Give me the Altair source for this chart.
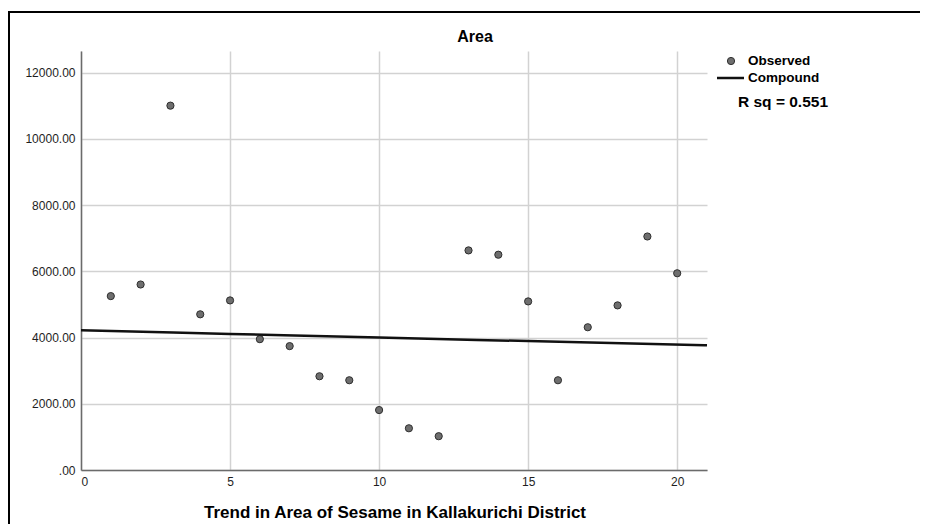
import altair as alt
import pandas as pd

# Observed values (year index vs area)
years = list(range(1, 21))
area = [5250, 5600, 11000, 4700, 5120, 3950, 3740, 2830, 2710, 1810,
        1260, 1020, 6630, 6500, 5090, 2710, 4310, 4970, 7050, 5940]

# Compound fit curve
fit_x = [0, 5, 10, 15, 21]
fit_y = [4220, 4108, 3998, 3892, 3768]

x_ticks = [0, 5, 10, 15, 20]
y_ticks = [0, 2000, 4000, 6000, 8000, 10000, 12000]

chart_title = "Area"
x_title = "Trend in Area of Sesame in Kallakurichi District"
legend_labels = ["Observed", "Compound"]
rsq_text = "R sq = 0.551"

obs = pd.DataFrame({"x": years, "y": area})
fit = pd.DataFrame({"x": fit_x, "y": fit_y})

W, H = 626, 419
FONT = "Liberation Sans"

xscale = alt.Scale(domain=[0, 21], nice=False, zero=False)
yscale = alt.Scale(domain=[0, 12650], nice=False)

xaxis = alt.Axis(values=x_ticks, title=None, grid=True, gridColor="#d2d2d2", gridWidth=1.5,
                 domainColor="#6b6b6b", domainWidth=1.5, ticks=False, labelPadding=6,
                 labelFont=FONT, labelFontSize=12, labelColor="#1e1e1e")
yaxis = alt.Axis(values=y_ticks, title=None, grid=True, gridColor="#d2d2d2", gridWidth=1.5,
                 domainColor="#6b6b6b", domainWidth=1.5, ticks=False, labelPadding=6,
                 labelFont=FONT, labelFontSize=12, labelColor="#1e1e1e",
                 labelExpr="datum.value == 0 ? '.00' : format(datum.value, '.2f')")

points = alt.Chart(obs).mark_point(filled=True, size=52, color="#6e6e6e",
                                   stroke="#2e2e2e", strokeWidth=1, opacity=1).encode(
    x=alt.X("x:Q", scale=xscale, axis=xaxis),
    y=alt.Y("y:Q", scale=yscale, axis=yaxis),
)

line = alt.Chart(fit).mark_line(color="#111111", strokeWidth=2.5, interpolate="monotone").encode(
    x=alt.X("x:Q", scale=xscale),
    y=alt.Y("y:Q", scale=yscale),
)

title_mark = alt.Chart(pd.DataFrame({"t": [chart_title]})).mark_text(
    font=FONT, fontSize=16, fontWeight="bold", color="#000000", align="center", baseline="middle"
).encode(x=alt.value(394), y=alt.value(-14), text="t:N")

xtitle_mark = alt.Chart(pd.DataFrame({"t": [x_title]})).mark_text(
    font=FONT, fontSize=17, fontWeight="bold", color="#000000", align="center", baseline="middle"
).encode(x=alt.value(W / 2 + 1), y=alt.value(462), text="t:N")

leg_pt = alt.Chart(pd.DataFrame({"a": [0]})).mark_point(
    filled=True, size=52, color="#6e6e6e", stroke="#2e2e2e", strokeWidth=1, opacity=1
).encode(x=alt.value(650), y=alt.value(10))

leg_line = alt.Chart(pd.DataFrame({"a": [0]})).mark_rule(color="#111111", strokeWidth=2.5).encode(
    x=alt.value(636), x2=alt.value(663), y=alt.value(27))

leg_text = alt.Chart(pd.DataFrame({"t": legend_labels, "yy": [10, 27]})).mark_text(
    font=FONT, fontSize=13.5, fontWeight="bold", color="#000000", align="left", baseline="middle"
).encode(x=alt.value(667), y=alt.Y("yy:Q", scale=None), text="t:N")

rsq = alt.Chart(pd.DataFrame({"t": [rsq_text]})).mark_text(
    font=FONT, fontSize=15.5, fontWeight="bold", color="#000000", align="left", baseline="middle"
).encode(x=alt.value(657), y=alt.value(50.5), text="t:N")

border_left = alt.Chart(pd.DataFrame({"a": [0]})).mark_rule(color="#000000", strokeWidth=2).encode(
    x=alt.value(-72), y=alt.value(-40), y2=alt.value(480))
border_top = alt.Chart(pd.DataFrame({"a": [0]})).mark_rule(color="#000000", strokeWidth=2).encode(
    x=alt.value(-73), x2=alt.value(850), y=alt.value(-39))

chart = alt.layer(points, line, title_mark, xtitle_mark, leg_pt, leg_line, leg_text, rsq,
                  border_left, border_top).properties(
    width=W, height=H,
    autosize=alt.AutoSizeParams(type="none"),
    padding={"left": 73, "top": 43, "right": 213, "bottom": 54},
    background="#ffffff",
).configure_view(stroke=None)

chart.save("out.html", embed_options={"renderer": "svg", "actions": False})
